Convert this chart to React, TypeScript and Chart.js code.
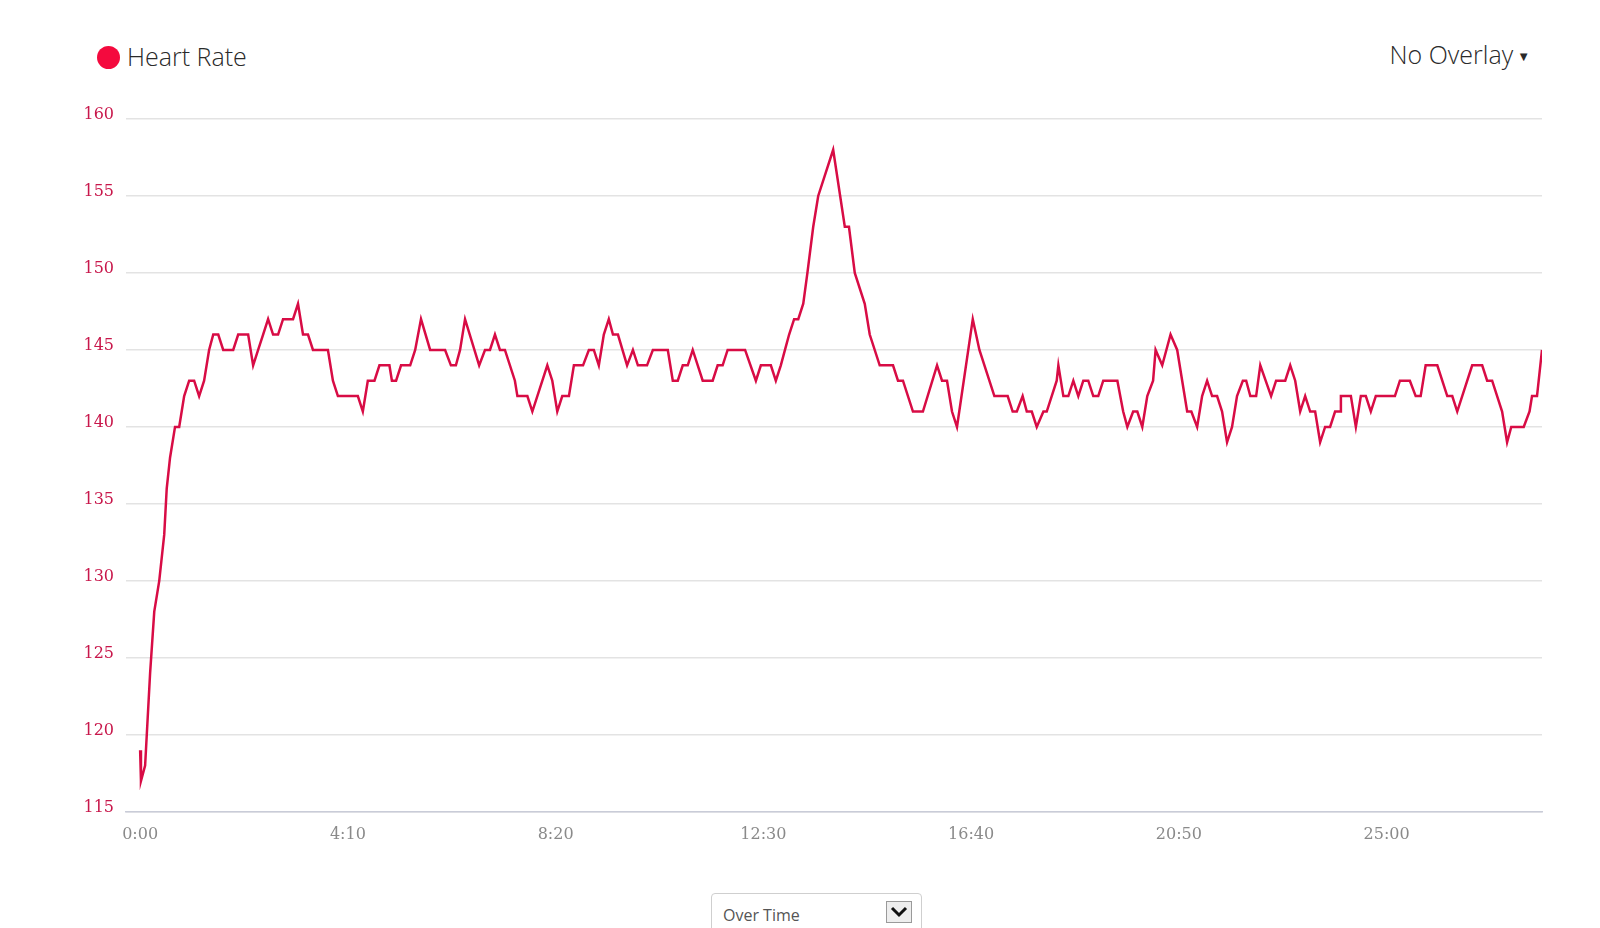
import React, { useEffect, useRef } from "react";
import { Chart, registerables } from "chart.js";

Chart.register(...registerables);

// elapsed time in seconds
const timeSeconds = [
  0, 1, 6, 12, 17, 23, 29, 32, 36, 42, 47, 53, 59, 65, 71, 77, 83, 88, 94, 100,
  112, 118, 130, 136, 142, 148, 154, 160, 166, 172, 184, 190, 196, 202, 208, 226, 232, 238, 262, 268,
  274, 282, 288, 300, 303, 308, 314, 325, 331, 338, 349, 367, 374, 380, 385, 391, 408, 415, 421, 427,
  433, 439, 451, 454, 466, 472, 490, 496, 502, 508, 516, 522, 533, 540, 546, 552, 558, 564, 569, 575,
  586, 593, 599, 610, 617, 635, 641, 647, 653, 659, 665, 677, 689, 695, 701, 707, 728, 741, 747, 759,
  765, 771, 776, 781, 787, 792, 798, 803, 810, 816, 834, 848, 853, 860, 872, 878, 890, 906, 912, 918,
  930, 942, 959, 965, 971, 977, 983, 1002, 1010, 1028, 1044, 1050, 1055, 1062, 1067, 1073, 1079, 1087, 1091, 1103,
  1105, 1111, 1117, 1123, 1129, 1135, 1141, 1147, 1153, 1159, 1176, 1183, 1188, 1195, 1200, 1206, 1212, 1219, 1222, 1230,
  1240, 1248, 1260, 1265, 1272, 1278, 1284, 1290, 1296, 1302, 1308, 1314, 1320, 1327, 1331, 1336, 1343, 1348, 1361, 1367,
  1378, 1384, 1390, 1396, 1402, 1408, 1414, 1420, 1426, 1432, 1438, 1444, 1445, 1457, 1463, 1469, 1475, 1481, 1487, 1510,
  1516, 1528, 1535, 1541, 1547, 1561, 1573, 1579, 1585, 1603, 1615, 1621, 1627, 1639, 1645, 1650, 1665, 1672, 1675, 1681,
  1687,
];

// beats per minute
const heartRate = [
  119, 117, 118, 124, 128, 130, 133, 136, 138, 140, 140, 142, 143, 143, 142, 143, 145, 146, 146, 145,
  145, 146, 146, 144, 145, 146, 147, 146, 146, 147, 147, 148, 146, 146, 145, 145, 143, 142, 142, 141,
  143, 143, 144, 144, 143, 143, 144, 144, 145, 147, 145, 145, 144, 144, 145, 147, 144, 145, 145, 146,
  145, 145, 143, 142, 142, 141, 144, 143, 141, 142, 142, 144, 144, 145, 145, 144, 146, 147, 146, 146,
  144, 145, 144, 144, 145, 145, 143, 143, 144, 144, 145, 143, 143, 144, 144, 145, 145, 143, 144, 144,
  143, 144, 145, 146, 147, 147, 148, 150, 153, 155, 158, 153, 153, 150, 148, 146, 144, 144, 143, 143,
  141, 141, 144, 143, 143, 141, 140, 147, 145, 142, 142, 141, 141, 142, 141, 141, 140, 141, 141, 143,
  144, 142, 142, 143, 142, 143, 143, 142, 142, 143, 143, 141, 140, 141, 141, 140, 142, 143, 145, 144,
  146, 145, 141, 141, 140, 142, 143, 142, 142, 141, 139, 140, 142, 143, 143, 142, 142, 144, 142, 143,
  143, 144, 143, 141, 142, 141, 141, 139, 140, 140, 141, 141, 142, 142, 140, 142, 142, 141, 142, 142,
  143, 143, 142, 142, 144, 144, 142, 142, 141, 144, 144, 143, 143, 141, 139, 140, 140, 141, 142, 142,
  145,
];

const xTickValues = [0, 250, 500, 750, 1000, 1250, 1500];
const yMin = 115;
const yMax = 160;
const yStep = 5;

const seriesLabel = "Heart Rate";
const overlayLabel = "No Overlay";
const modeLabel = "Over Time";

function fmtTime(sec: number): string {
  const m = Math.floor(sec / 60);
  const s = Math.round(sec - m * 60);
  return `${m}:${s < 10 ? "0" : ""}${s}`;
}

function HeartChart() {
  const ref = useRef<HTMLCanvasElement | null>(null);
  useEffect(() => {
    if (!ref.current) return;
    const points = timeSeconds.map((t, i) => ({ x: t, y: heartRate[i] }));
    const chart = new Chart(ref.current, {
      type: "line",
      data: {
        datasets: [
          {
            label: seriesLabel,
            data: points,
            borderColor: "#d80c45",
            borderWidth: 2.5,
            pointRadius: 0,
            tension: 0,
            fill: false,
          },
        ],
      },
      options: {
        animation: false,
        responsive: false,
        maintainAspectRatio: false,
        layout: { padding: { top: 29, right: 58, bottom: 23, left: 0 } },
        plugins: { legend: { display: false }, tooltip: { enabled: false } },
        scales: {
          x: {
            type: "linear",
            min: -17,
            max: 1687,
            afterBuildTicks: (scale: any) => {
              scale.ticks = xTickValues.map((v) => ({ value: v }));
            },
            grid: { display: false, drawTicks: false },
            border: { display: true, color: "#c9ccd8", width: 1.5 },
            ticks: {
              padding: 13,
              color: "#8a8a8a",
              font: { family: "'DejaVu Serif'", size: 16 },
              callback: (v: any) => fmtTime(Number(v)),
              maxRotation: 0,
              autoSkip: false,
            },
          },
          y: {
            min: yMin,
            max: yMax,
            afterFit: (scale: any) => {
              scale.width = 126;
            },
            grid: { color: "#e3e3e3", lineWidth: 1.5, drawTicks: false },
            border: { display: false },
            ticks: {
              stepSize: yStep,
              padding: 12,
              labelOffset: -4,
              color: "#c8174b",
              font: { family: "'DejaVu Serif'", size: 16 },
            },
          },
        },
      },
    });
    return () => chart.destroy();
  }, []);
  return (
    <canvas
      ref={ref}
      width={1600}
      height={790}
      style={{ position: "absolute", left: 0, top: 90, width: 1600, height: 790 }}
    />
  );
}

export default function App() {
  return (
    <div
      style={{
        position: "absolute",
        left: 0,
        top: 0,
        width: 1600,
        height: 928,
        overflow: "hidden",
        background: "#fff",
        fontFamily: "'Open Sans', sans-serif",
      }}
    >
      <HeartChart />
      <div
        style={{
          position: "absolute",
          left: 97,
          top: 46,
          width: 23,
          height: 23,
          borderRadius: "50%",
          background: "#f40a3e",
        }}
      />
      <div
        style={{
          position: "absolute",
          left: 127,
          top: 38,
          fontSize: 25,
          fontWeight: 300,
          color: "#2a2a2a",
          lineHeight: "36px",
          whiteSpace: "nowrap",
        }}
      >
        {seriesLabel}
      </div>
      <div
        style={{
          position: "absolute",
          right: 70,
          top: 36,
          fontSize: 25,
          fontWeight: 300,
          color: "#2a2a2a",
          lineHeight: "36px",
          whiteSpace: "nowrap",
        }}
      >
        {overlayLabel}
        <span style={{ fontSize: 13, marginLeft: 4, position: "relative", top: -3 }}>▼</span>
      </div>
      <div
        style={{
          position: "absolute",
          left: 711,
          top: 893,
          width: 211,
          height: 50,
          border: "1px solid #cfcfcf",
          borderRadius: 4,
          boxSizing: "border-box",
        }}
      >
        <div
          style={{
            position: "absolute",
            left: 11,
            top: 8,
            fontSize: 16,
            color: "#555",
            lineHeight: "26px",
          }}
        >
          {modeLabel}
        </div>
        <div
          style={{
            position: "absolute",
            left: 174,
            top: 7,
            width: 26,
            height: 22,
            border: "1px solid #9a9a9a",
            background: "#eeeeee",
            boxSizing: "border-box",
          }}
        >
          <svg width="24" height="20" viewBox="0 0 24 20" style={{ display: "block" }}>
            <polyline points="5,6 12,13 19,6" fill="none" stroke="#111" strokeWidth="3" />
          </svg>
        </div>
      </div>
    </div>
  );
}
